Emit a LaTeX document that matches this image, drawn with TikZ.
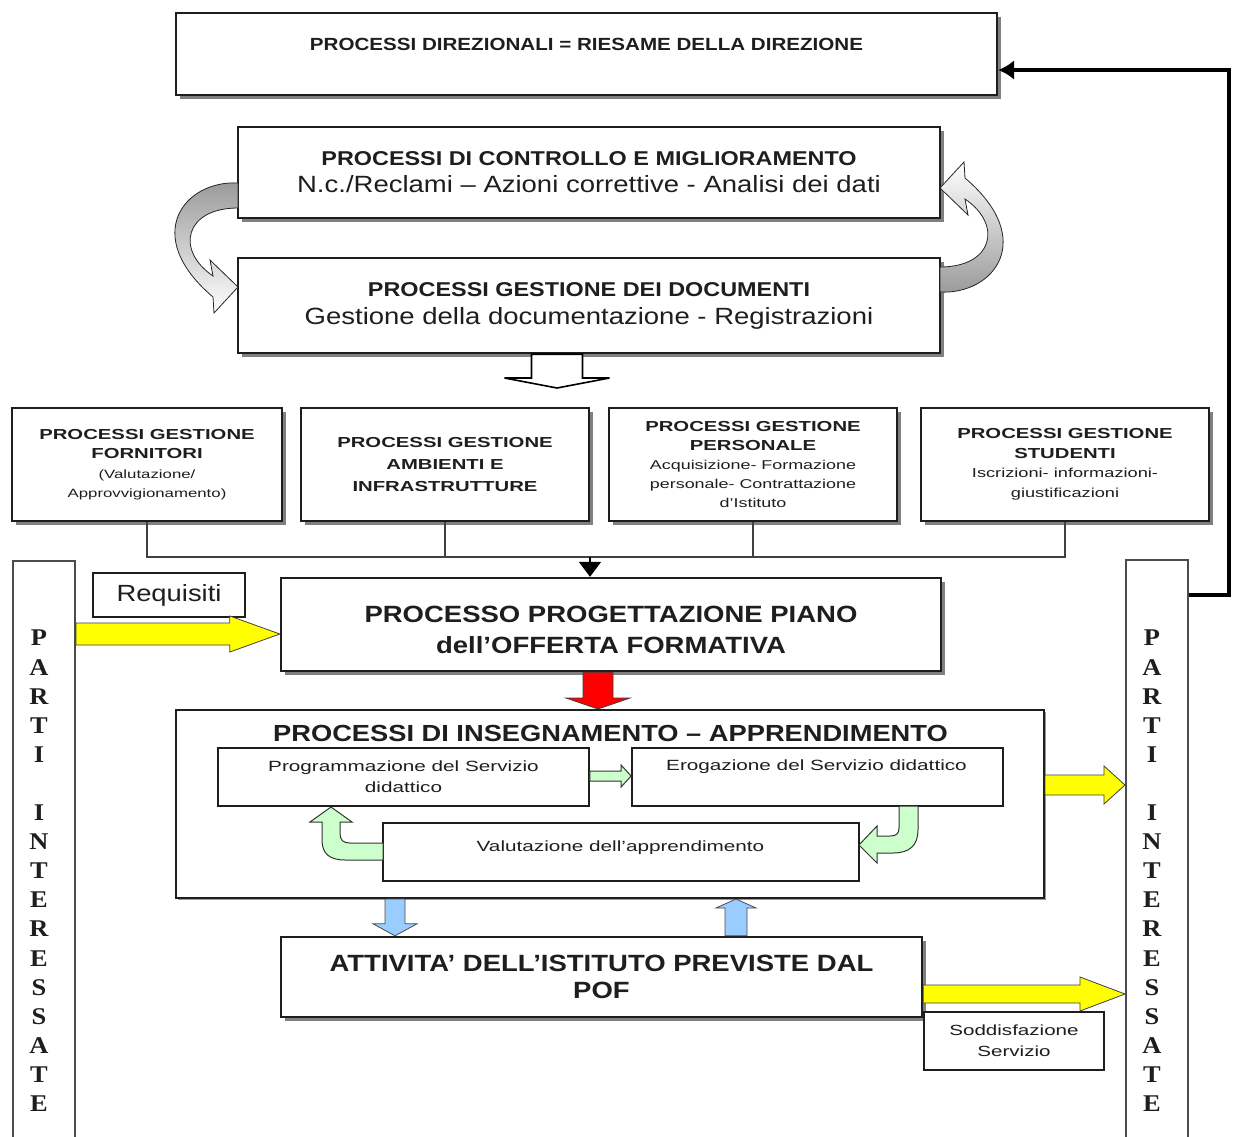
\documentclass[tikz,border=0pt]{standalone}
\usepackage{fontspec}
\setmainfont{Liberation Sans}
\newfontfamily\fA[FakeStretch=1.17]{Liberation Sans}
\newfontfamily\fS[FakeStretch=1.4]{Liberation Sans}
\newfontfamily\fT[FakeStretch=1.1]{Liberation Serif}
\usetikzlibrary{shadows,arrows.meta,calc}
\definecolor{ylw}{RGB}{255,255,0}
\definecolor{rdd}{RGB}{255,0,0}
\definecolor{lgreen}{RGB}{204,255,204}
\definecolor{lblue}{RGB}{153,204,255}
\definecolor{ink}{RGB}{30,30,30}
\newcommand{\fsz}[2]{\fontsize{#1}{#2}\selectfont}
% vertical / horizontal block arrows between named points
\newcommand{\downblk}[6]{\path[#1] let \p1=(#2), \p2=(#3) in
  (\x1-#4pt,\y1) -- (\x1-#4pt,\y2+#6pt) -- (\x1-#5pt,\y2+#6pt) -- (\x1,\y2)
  -- (\x1+#5pt,\y2+#6pt) -- (\x1+#4pt,\y2+#6pt) -- (\x1+#4pt,\y1) -- cycle;}
\newcommand{\upblk}[6]{\path[#1] let \p1=(#2), \p2=(#3) in
  (\x1-#4pt,\y1) -- (\x1-#4pt,\y2-#6pt) -- (\x1-#5pt,\y2-#6pt) -- (\x1,\y2)
  -- (\x1+#5pt,\y2-#6pt) -- (\x1+#4pt,\y2-#6pt) -- (\x1+#4pt,\y1) -- cycle;}
\newcommand{\rightblk}[6]{\path[#1] let \p1=(#2), \p2=(#3) in
  (\x1,\y1+#4pt) -- (\x2-#6pt,\y1+#4pt) -- (\x2-#6pt,\y1+#5pt) -- (\x2,\y1)
  -- (\x2-#6pt,\y1-#5pt) -- (\x2-#6pt,\y1-#4pt) -- (\x1,\y1-#4pt) -- cycle;}
\begin{document}
\begin{tikzpicture}[x=1pt,y=-1pt,
  box/.style={draw=ink, line width=2.4pt, fill=white, inner sep=0pt, align=center, text=ink},
  thinbox/.style={draw=ink, line width=1.8pt, fill=white, inner sep=0pt, align=center, text=ink},
  colbox/.style={draw=black!70, line width=2pt, fill=white, inner sep=0pt},
  shad/.style={drop shadow={shadow xshift=4pt, shadow yshift=-4pt, fill=black!50, opacity=1}},
  txt/.style={inner sep=0pt, align=center, text=ink},
  conn/.style={draw=black!75, line width=2pt},
  yelarr/.style={fill=ylw, draw=black!75, line width=0.8pt},
  redarr/.style={fill=rdd, draw=black!75, line width=0.8pt},
  bluearr/.style={fill=lblue, draw=black!70, line width=0.8pt},
  greenarr/.style={fill=lgreen, draw=black!80, line width=1pt},
  openarr/.style={fill=white, draw=black, line width=1.6pt},
  grayarr/.style={draw=black!85, line width=0.8pt}]
\useasboundingbox (0,0) rectangle (1235,1136);
\fill[white] (0,0) rectangle (1235,1136);

% side columns
\node[colbox, minimum width=62pt, minimum height=582pt] (lc) at (44,852) {};
\node[colbox, minimum width=62pt, minimum height=582pt] (rc) at (1157,851) {};
\node[txt, font=\fT\bfseries\fsz{24}{29.1}, anchor=north] (lcl) at (39,630)
  {P\\A\\R\\T\\I\\\mbox{}\\I\\N\\T\\E\\R\\E\\S\\S\\A\\T\\E};
\node[txt, font=\fT\bfseries\fsz{24}{29.1}, anchor=north] (rcl) at (1152,630)
  {P\\A\\R\\T\\I\\\mbox{}\\I\\N\\T\\E\\R\\E\\S\\S\\A\\T\\E};

% top boxes
\node[box, shad, minimum width=821pt, minimum height=82pt] (dir) at (586.5,54) {};
\node[txt, font=\fA\bfseries\fsz{17.6}{20}] (dirlbl) at ([yshift=10pt]dir.center)
  {PROCESSI DIREZIONALI = RIESAME DELLA DIREZIONE};
\node[box, shad, minimum width=702pt, minimum height=91pt, font=\fA\fsz{23.5}{27}] (ctrl) at (589,172.5)
  {{\bfseries\fsz{20}{27}PROCESSI DI CONTROLLO E MIGLIORAMENTO}\\N.c./Reclami – Azioni correttive - Analisi dei dati};
\node[box, shad, minimum width=702pt, minimum height=95pt, font=\fA\fsz{23.5}{28}] (doc) at (589,305.5)
  {{\bfseries\fsz{20}{28}PROCESSI GESTIONE DEI DOCUMENTI}\\Gestione della documentazione - Registrazioni};

% curved grey arrows
\path[grayarr, top color=black!40, middle color=white, bottom color=white]
  (238,183) .. controls (185,180) and (140,235) .. (213,297) -- (214,313) -- (238,287)
  -- (210,260) -- (213,276) .. controls (175,250) and (185,208) .. (238,208) -- cycle;
\path[grayarr, top color=white, middle color=white, bottom color=black!40]
  (940,292) .. controls (993,295) and (1038,240) .. (965,178) -- (964,162) -- (940,188)
  -- (968,215) -- (965,199) .. controls (1003,225) and (993,267) .. (940,267) -- cycle;

% open arrow below documents
\coordinate (dend) at (557,388);
\downblk{openarr}{557,0 |- doc.south}{dend}{25.5}{52.5}{10}

% four process boxes
\node[box, shad, minimum width=270pt, minimum height=113pt, font=\fS\fsz{14.5}{19.5}] (forn) at (147,464.5)
  {{\bfseries PROCESSI GESTIONE}\\{\bfseries FORNITORI}\\{\fsz{12}{19.5}(Valutazione/}\\{\fsz{12}{19.5}Approvvigionamento)}};
\node[box, shad, minimum width=288pt, minimum height=113pt, font=\fS\bfseries\fsz{14.5}{22}] (amb) at (445,464.5)
  {PROCESSI GESTIONE\\AMBIENTI E\\INFRASTRUTTURE};
\node[box, shad, minimum width=288pt, minimum height=113pt, font=\fS\fsz{14.5}{19}] (pers) at (753,464.5)
  {{\bfseries PROCESSI GESTIONE}\\{\bfseries PERSONALE}\\{\fsz{12.8}{19}Acquisizione- Formazione}\\{\fsz{12.8}{19}personale- Contrattazione}\\{\fsz{12.8}{19}d’Istituto}};
\node[box, shad, minimum width=288pt, minimum height=113pt, font=\fS\fsz{14.5}{19.5}] (stud) at (1065,464.5)
  {{\bfseries PROCESSI GESTIONE}\\{\bfseries STUDENTI}\\{\fsz{13}{19.5}Iscrizioni- informazioni-}\\{\fsz{13}{19.5}giustificazioni}};

% bus connectors
\coordinate (bus) at (590,557);
\draw[conn] (forn.south) |- (stud.south |- bus) -- (stud.south);
\draw[conn] (amb.south) -- (amb.south |- bus);
\draw[conn] (pers.south) -- (pers.south |- bus);

% progettazione
\node[thinbox, minimum width=152pt, minimum height=44pt, font=\fA\fsz{23.4}{27}] (req) at (169,595) {Requisiti};
\node[box, shad, minimum width=660pt, minimum height=93pt] (prog) at (611,624.5) {};
\node[txt, font=\fA\bfseries\fsz{23.5}{31}] (proglbl) at ([yshift=-5pt]prog.center)
  {PROCESSO PROGETTAZIONE PIANO\\dell’OFFERTA FORMATIVA};
\draw[conn, draw=black, -{Triangle[width=22pt,length=15pt]}] (bus) -- (bus |- prog.north);

% insegnamento
\node[box, line width=2pt, drop shadow={shadow xshift=2pt, shadow yshift=-2pt, fill=black!40, opacity=1},
  minimum width=868pt, minimum height=188pt] (ins) at (610,804) {};
\node[txt, font=\fA\bfseries\fsz{23.3}{27}] (inslbl) at (610.5,733) {PROCESSI DI INSEGNAMENTO – APPRENDIMENTO};
\node[thinbox, minimum width=371pt, minimum height=58pt, font=\fS\fsz{14.8}{21}] (prgm) at (403.5,777)
  {Programmazione del Servizio\\didattico};
\node[thinbox, minimum width=371pt, minimum height=58pt] (erog) at (817.5,777) {};
\node[txt, font=\fS\fsz{14.8}{21}] (eroglbl) at (816.5,767) {Erogazione del Servizio didattico};
\node[thinbox, minimum width=476pt, minimum height=58pt] (eval) at (621,852) {};
\node[txt, font=\fS\fsz{14.8}{21}] (evallbl) at (620.5,848) {Valutazione dell’apprendimento};

% attivita and soddisfazione
\node[box, shad, minimum width=641pt, minimum height=80pt, font=\fA\bfseries\fsz{23.5}{27}] (att) at (601.5,977)
  {ATTIVITA’ DELL’ISTITUTO PREVISTE DAL\\POF};
\node[thinbox, minimum width=180pt, minimum height=58pt, font=\fS\fsz{14.7}{21}] (sod) at (1014,1041)
  {Soddisfazione\\Servizio};

% block arrows
\rightblk{yelarr}{lc.east |- 0,634}{prog.west}{11}{18}{50}
\downblk{redarr}{598,0 |- prog.south}{598,0 |- ins.north}{15}{32}{11}
\rightblk{greenarr}{prgm.east |- 0,776}{erog.west}{5}{11}{10}
\rightblk{yelarr}{ins.east |- 0,785}{rc.west}{10}{19}{21}
\downblk{bluearr}{395,0 |- ins.south}{395,0 |- att.north}{10}{22}{12}
\upblk{bluearr}{736,0 |- att.north}{736,0 |- ins.south}{11}{20}{9}
\rightblk{yelarr}{att.east |- 0,994}{rc.west}{9}{17}{45}

% curved green arrows
\path[greenarr] (383,843) -- (350,843) .. controls (343,843) and (340,840) .. (340,833) -- (340,822)
  -- (352,822) -- (331,807) -- (310,822) -- (322,822) -- (322,840)
  .. controls (322,854) and (330,860) .. (345,860) -- (383,860) -- cycle;
\path[greenarr] (899,806) -- (899,828) .. controls (899,834) and (896,836) .. (890,836) -- (877,836)
  -- (877,826) -- (859,845) -- (877,863) -- (877,853) -- (893,853)
  .. controls (910,853) and (918,845) .. (918,830) -- (918,806) -- cycle;

% feedback arrow
\coordinate (fb1) at (1229,595);
\coordinate (fb2) at (1229,70);
\draw[line width=4.5pt, -{Latex[length=16pt,width=20pt]}] (rc.east |- fb1) -- (fb1) -- (fb2) -- (dir.east |- fb2);
\end{tikzpicture}
\end{document}
